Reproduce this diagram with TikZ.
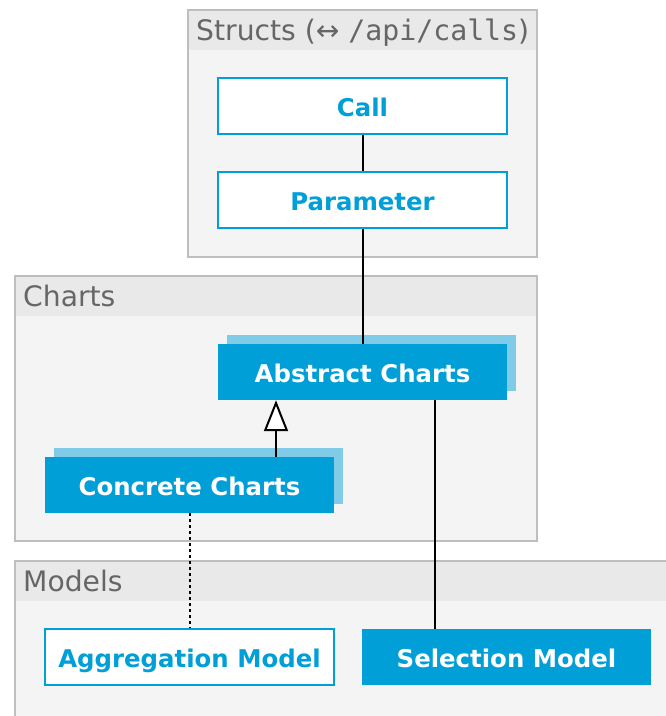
\documentclass[tikz,border=0pt]{standalone}
\usepackage{fontspec}
\setmainfont{DejaVu Sans}
\setmonofont{DejaVu Sans Mono}
\usetikzlibrary{arrows.meta,shadows}
\definecolor{ublue}{HTML}{009FD7}
\definecolor{ushadow}{HTML}{7FCBE8}
\definecolor{grpborder}{HTML}{BEBEBE}
\definecolor{grphead}{HTML}{E9E9E9}
\definecolor{grpbody}{HTML}{F4F4F4}
\definecolor{grptext}{HTML}{666666}
\begin{document}
\begin{tikzpicture}[x=1pt,y=-1pt,
 cls/.style={minimum width=289pt,minimum height=56pt,inner sep=0pt,font=\fontsize{24.4}{28}\selectfont\bfseries,text height=20.5pt,text depth=0pt},
 plainbox/.style={cls,draw=ublue,line width=1.5pt,fill=white,text=ublue},
 filledbox/.style={cls,fill=ublue,text=white},
 shadowedbox/.style={filledbox,copy shadow={shadow xshift=9pt,shadow yshift=9pt,fill=ushadow,draw=none}},
 grp/.style={draw=grpborder,line width=1.5pt},
 grplabel/.style={anchor=base west,inner sep=0pt,text=grptext,font=\fontsize{28.2}{32}\selectfont},
 link/.style={line width=2pt}]
\useasboundingbox (0,0) rectangle (666,716);
\clip (0,0) rectangle (666,716);
% groups
\fill[grpbody] (188,10) rectangle (537,257);
\fill[grphead] (188,10) rectangle (537,50);
\draw[grp] (188,10) rectangle (537,257);
\node[grplabel] (structsT) at (196,40) {Structs (↔ \texttt{/api/calls})};
\fill[grpbody] (15,276) rectangle (537,541);
\fill[grphead] (15,276) rectangle (537,316);
\draw[grp] (15,276) rectangle (537,541);
\node[grplabel] (chartsT) at (23,306) {Charts};
\fill[grpbody] (15,561) rectangle (700,760);
\fill[grphead] (15,561) rectangle (700,601);
\draw[grp] (15,561) rectangle (700,760);
\node[grplabel] (modelsT) at (23,591) {Models};
% classes
\node[plainbox] (call) at (362.5,106) {Call};
\node[plainbox] (param) at (362.5,200) {Parameter};
\node[shadowedbox] (abstract) at (362.5,372) {Abstract Charts};
\node[shadowedbox] (concrete) at (189.5,485) {Concrete Charts};
\node[plainbox] (aggr) at (189.5,657) {Aggregation Model};
\node[filledbox] (sel) at (506.5,657) {Selection Model};
% connectors
\coordinate (inhx) at (276,0);
\coordinate (selx) at (435,0);
\draw[link] (call.south) -- (param.north);
\draw[link] (param.south) -- (abstract.north);
\draw[link,-{Triangle[length=31pt,width=24pt,fill=white]}] (concrete.north -| inhx) -- (abstract.south -| inhx);
\draw[link] (abstract.south -| selx) -- (sel.north -| selx);
\draw[link,dash pattern=on 3pt off 3pt] (concrete.south) -- (aggr.north);
\end{tikzpicture}
\end{document}
